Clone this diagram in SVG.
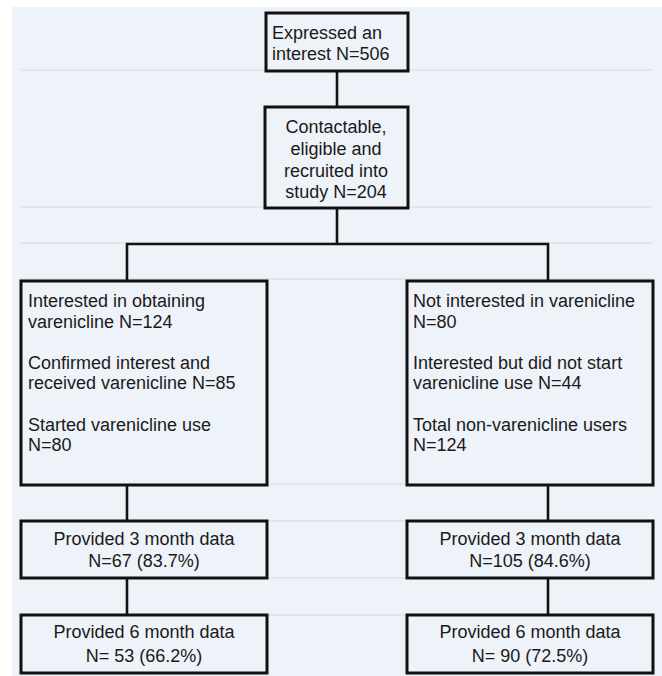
<svg xmlns="http://www.w3.org/2000/svg" width="662" height="676" viewBox="0 0 662 676">
<style>
.box{fill:#eef2f9;stroke:#111;stroke-width:3}
.conn{stroke:#111;stroke-width:2.6;fill:none}
.grid{stroke:#d3d8e0;stroke-width:1.2}
text{font-family:"Liberation Sans",Arial,sans-serif;font-size:18px;fill:#1a1a1a}
.c{text-anchor:middle}
</style>
<rect x="0" y="0" width="662" height="676" fill="#ffffff"/>
<rect x="12" y="7" width="650" height="669" fill="#eef2f9"/>
<g id="gridlines">
<line class="grid" x1="21" y1="70" x2="652" y2="70"/>
<line class="grid" x1="21" y1="207" x2="652" y2="207"/>
<line class="grid" x1="21" y1="243" x2="652" y2="243"/>
<line class="grid" x1="21" y1="279" x2="652" y2="279"/>
<line class="grid" x1="21" y1="484" x2="652" y2="484"/>
<line class="grid" x1="21" y1="521" x2="652" y2="521"/>
<line class="grid" x1="21" y1="578" x2="652" y2="578"/>
<line class="grid" x1="21" y1="615" x2="652" y2="615"/>
</g>
<g id="connectors">
<line class="conn" x1="337" y1="71" x2="337" y2="107"/>
<polyline class="conn" points="337,208 337,244"/>
<polyline class="conn" points="127,281 127,244 548,244 548,281"/>
<line class="conn" x1="127" y1="485" x2="127" y2="521"/>
<line class="conn" x1="127" y1="578" x2="127" y2="615"/>
<line class="conn" x1="548" y1="485" x2="548" y2="521"/>
<line class="conn" x1="548" y1="578" x2="548" y2="615"/>
</g>
<g id="expressed">
<rect class="box" x="266" y="13" width="142" height="58"/>
<text x="272" y="39">Expressed an</text>
<text x="272" y="60">interest N=506</text>
</g>
<g id="recruited">
<rect class="box" x="265" y="107" width="143" height="101"/>
<text class="c" x="336" y="133">Contactable,</text>
<text class="c" x="336" y="155">eligible and</text>
<text class="c" x="336" y="177">recruited into</text>
<text class="c" x="336" y="198">study N=204</text>
</g>
<g id="interested">
<rect class="box" x="21" y="281" width="246" height="204"/>
<text x="28" y="307">Interested in obtaining</text>
<text x="28" y="327.5">varenicline N=124</text>
<text x="28" y="368.5">Confirmed interest and</text>
<text x="28" y="389">received varenicline N=85</text>
<text x="28" y="430.5">Started varenicline use</text>
<text x="28" y="451">N=80</text>
</g>
<g id="notinterested">
<rect class="box" x="407" y="281" width="246" height="204"/>
<text x="413" y="307">Not interested in varenicline</text>
<text x="413" y="327.5">N=80</text>
<text x="413" y="368.5">Interested but did not start</text>
<text x="413" y="389">varenicline use N=44</text>
<text x="413" y="430.5">Total non-varenicline users</text>
<text x="413" y="451">N=124</text>
</g>
<g id="left3m">
<rect class="box" x="21" y="521" width="246" height="57"/>
<text class="c" x="144" y="545">Provided 3 month data</text>
<text class="c" x="144" y="567">N=67 (83.7%)</text>
</g>
<g id="right3m">
<rect class="box" x="407" y="521" width="246" height="57"/>
<text class="c" x="530" y="545">Provided 3 month data</text>
<text class="c" x="530" y="567">N=105 (84.6%)</text>
</g>
<g id="left6m">
<rect class="box" x="21" y="615" width="246" height="58"/>
<text class="c" x="144" y="638">Provided 6 month data</text>
<text class="c" x="144" y="662">N= 53 (66.2%)</text>
</g>
<g id="right6m">
<rect class="box" x="407" y="615" width="246" height="58"/>
<text class="c" x="530" y="638">Provided 6 month data</text>
<text class="c" x="530" y="662">N= 90 (72.5%)</text>
</g>
</svg>
